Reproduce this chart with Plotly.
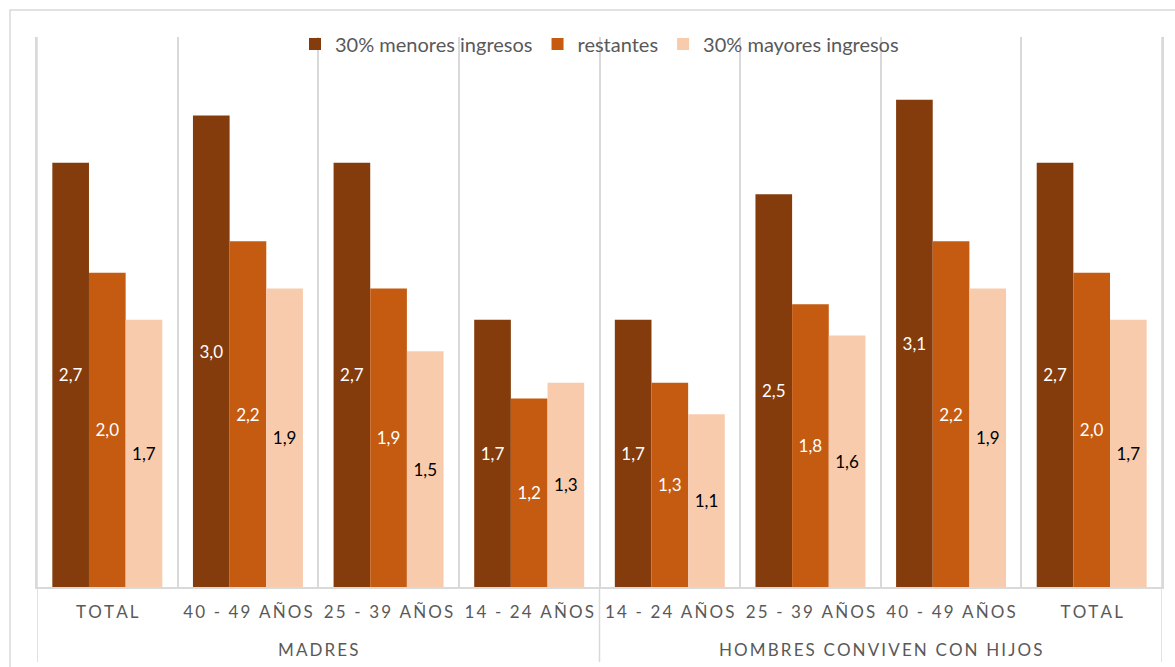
import plotly.graph_objects as go

# Grupos y categorías del eje (orden tal como se presentan)
groups = ["MADRES", "HOMBRES CONVIVEN CON HIJOS"]
group_sizes = [4, 4]
ages = ["TOTAL", "40 - 49 AÑOS", "25 - 39 AÑOS", "14 - 24 AÑOS",
        "14 - 24 AÑOS", "25 - 39 AÑOS", "40 - 49 AÑOS", "TOTAL"]

# Valores por tramo de ingresos
menores = [2.7, 3.0, 2.7, 1.7, 1.7, 2.5, 3.1, 2.7]
restantes = [2.0, 2.2, 1.9, 1.2, 1.3, 1.8, 2.2, 2.0]
mayores = [1.7, 1.9, 1.5, 1.3, 1.1, 1.6, 1.9, 1.7]

series_names = ["30% menores ingresos", "restantes", "30% mayores ingresos"]
series_colors = ["#843C0C", "#C55A11", "#F8CBAD"]
label_colors = ["#FFFFFF", "#FFFFFF", "#000000"]

FONT = "Lato"
GRID = "#D9D9D9"
TEXT = "#595959"

# geometría del lienzo (px)
W, H = 1175, 667
ML, MR, MT, MB = 37, 13, 37, 80
PW, PH = W - ML - MR, H - MT - MB


def spaced(s):
    # espaciado entre letras para las etiquetas del eje
    return "\u2009".join(s)


def py(px_from_top):
    # coordenada vertical en fracción del área de trazado
    return (H - MB - px_from_top) / PH


# identificadores únicos por categoría (las etiquetas se repiten entre grupos)
cat_ids = [f"c{i}" for i in range(len(ages))]

fig = go.Figure()
for name, vals, col, tcol in zip(series_names, [menores, restantes, mayores],
                                 series_colors, label_colors):
    fig.add_trace(go.Bar(
        x=cat_ids, y=vals, name=name,
        marker=dict(color=col, line=dict(width=0)),
        texttemplate="%{y:.1f}", textposition="inside",
        insidetextanchor="middle", textangle=0,
        textfont=dict(family=FONT, size=17, color=tcol),
        hoverinfo="skip",
    ))

# marco exterior del gráfico
fig.add_shape(type="rect", xref="paper", yref="paper",
              x0=(10 - ML) / PW, x1=(W + 10 - ML) / PW,
              y0=py(H + 10), y1=py(10),
              line=dict(color=GRID, width=1.5), layer="below")

# separadores de grupo bajo el eje, y etiquetas de grupo
start = 0
bounds = [-0.5]
for g, n in zip(groups, group_sizes):
    center = start + (n - 1) / 2
    fig.add_annotation(x=center, xref="x", y=py(649), yref="paper",
                       text=spaced(g), showarrow=False,
                       font=dict(family=FONT, size=17, color=TEXT),
                       xanchor="center", yanchor="middle")
    start += n
    bounds.append(start - 0.5)

for i, b in enumerate(bounds):
    top = 1 if i in (0, len(bounds) - 1) else 0
    fig.add_shape(type="line", xref="x", yref="paper",
                  x0=b, x1=b, y0=py(662), y1=top,
                  line=dict(color=GRID, width=1.5), layer="below")

fig.update_layout(
    width=W, height=H,
    margin=dict(l=ML, r=MR, t=MT, b=MB),
    paper_bgcolor="white", plot_bgcolor="white",
    separators=",.",
    barmode="group", bargap=0.218, bargroupgap=0,
    font=dict(family=FONT, color=TEXT),
    showlegend=True,
    legend=dict(orientation="h", x=0.5, xanchor="center", y=py(44), yanchor="middle",
                bgcolor="rgba(0,0,0,0)", font=dict(size=20, color=TEXT),
                traceorder="normal"),
    xaxis=dict(type="category", tickmode="array", tickvals=cat_ids,
               ticktext=[spaced(a) for a in ages],
               range=[-0.5, len(ages) - 0.5],
               showgrid=True, gridcolor=GRID, gridwidth=1.5,
               showline=True, linecolor=GRID, linewidth=1.5,
               tickson="boundaries", ticks="", ticklabelstandoff=9,
               tickfont=dict(size=17, color=TEXT)),
    yaxis=dict(range=[0, 3.5], showgrid=False, showticklabels=False, zeroline=False,
               showline=True, mirror=True, linecolor=GRID, linewidth=1.5, ticks=""),
)

fig.write_html("out.html")
